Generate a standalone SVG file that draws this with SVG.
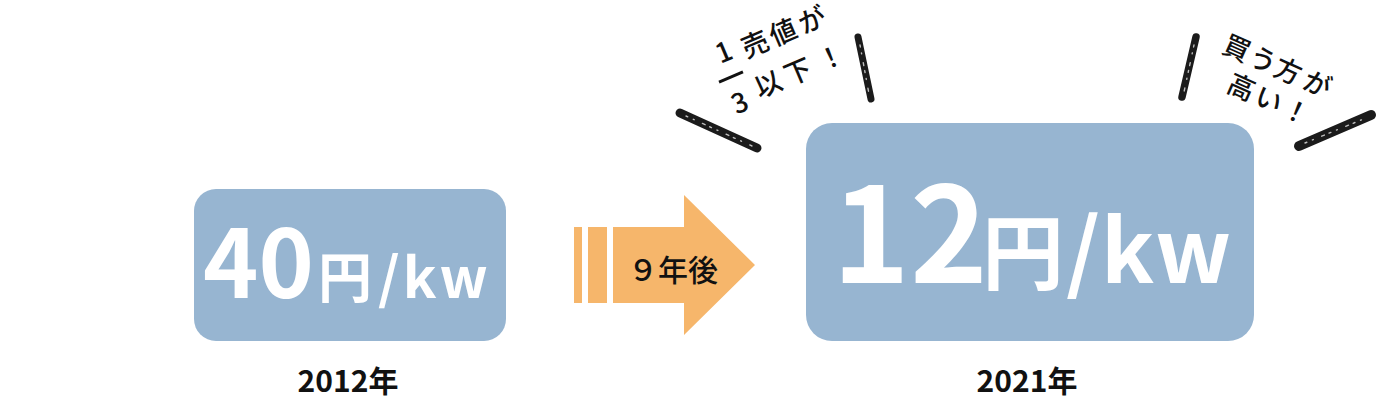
<svg xmlns="http://www.w3.org/2000/svg" width="1380" height="400" viewBox="0 0 1380 400">
<style>
.box{fill:#97B5D1}
.big{font-family:"Noto Sans CJK JP","Liberation Sans",sans-serif;font-weight:700;fill:#fff}
.lab{font-family:"Noto Sans CJK JP","Liberation Sans",sans-serif;font-weight:700;fill:#111;text-anchor:middle}
.ann{font-family:"Noto Sans CJK JP",sans-serif;font-weight:500;fill:#111;text-anchor:middle}
.ink{stroke:#1b1b1b;stroke-linecap:round;fill:none}
.tex{stroke:#bdbdbd;stroke-width:1.4;stroke-dasharray:2 6 1 9 3 5;stroke-linecap:round;fill:none}
</style>
<rect width="1380" height="400" fill="#fff"/>
<g id="node-2012">
<rect class="box" x="194" y="189" width="312" height="152" rx="22"/>
<text class="big" y="298"><tspan x="203" font-size="94">40</tspan><tspan x="318" font-size="54">円</tspan><tspan x="378" font-size="56" letter-spacing="3">/kw</tspan></text>
<text class="lab" x="348" y="392" font-size="30">2012年</text>
</g>
<g id="arrow">
<rect x="574" y="227" width="8" height="76" fill="#F6B66B"/>
<rect x="588" y="227" width="19" height="76" fill="#F6B66B"/>
<polygon points="613,227 684,227 684,195 755,265 684,335 684,303 613,303" fill="#F6B66B"/>
<text class="ann" x="673" y="281" font-size="30">９年後</text>
</g>
<g id="node-2021">
<rect class="box" x="806" y="123" width="448" height="218" rx="26"/>
<text class="big" y="283"><tspan x="832" font-size="132">12</tspan><tspan x="982" font-size="82">円</tspan><tspan x="1066" font-size="88" letter-spacing="1">/kw</tspan></text>
<text class="lab" x="1027" y="392" font-size="30">2021年</text>
</g>
<g id="callout-left">
<text class="ann" font-size="27" transform="translate(755,44) rotate(-23)"><tspan x="-32" y="5">1</tspan><tspan x="0 30.5 62" y="10">売値が</tspan><tspan x="-37" y="58">3</tspan><tspan x="-3.7 28.7 64.6" y="52">以下！</tspan></text>
<line x1="-48" y1="21" x2="-22" y2="21" stroke="#111" stroke-width="3" transform="translate(755,44) rotate(-23)"/>
<path class="ink" d="M680,113 L757,148" stroke-width="9"/>
<path class="tex" d="M686,116 L752,146"/>
<path class="ink" d="M858,37 L871,99" stroke-width="7"/>
<path class="tex" d="M860,45 L869,94"/>
</g>
<g id="callout-right">
<text class="ann" font-size="27" transform="translate(1237,48) rotate(24)"><tspan x="0 28.5 56 88" y="10">買う方が</tspan><tspan x="20 50 80" y="44">高い！</tspan></text>
<path class="ink" d="M1196,37 L1182,97" stroke-width="7.5"/>
<path class="tex" d="M1194,45 L1184,92"/>
<path class="ink" d="M1299,146 L1371,115" stroke-width="10"/>
<path class="tex" d="M1305,143 L1366,118"/>
</g>
</svg>
